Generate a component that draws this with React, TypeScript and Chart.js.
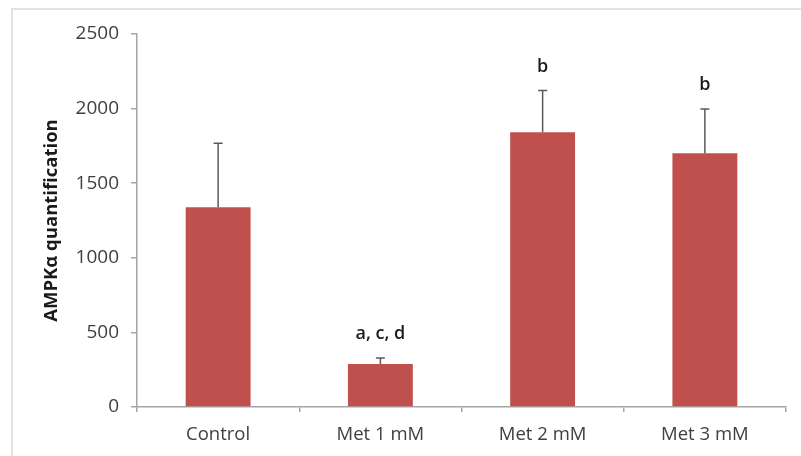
import React, { useEffect, useRef } from "react";
import { Chart, registerables } from "chart.js";

Chart.register(...registerables);

const categories = ["Control", "Met 1 mM", "Met 2 mM", "Met 3 mM"];
const means = [1338, 288, 1841, 1700];
const errors = [429, 40, 281, 297];
const letters = ["", "a, c, d", "b", "b"];
const yTicks = [0, 500, 1000, 1500, 2000, 2500];

const FONT = "'Open Sans', 'Noto Sans', sans-serif";

const overlayPlugin = {
  id: "overlay",
  beforeDraw(chart: any) {
    const ctx = chart.ctx;
    ctx.save();
    ctx.fillStyle = "#ffffff";
    ctx.fillRect(0, 0, chart.width, chart.height);
    ctx.strokeStyle = "#d9d9d9";
    ctx.lineWidth = 1.5;
    ctx.beginPath();
    ctx.moveTo(12, chart.height);
    ctx.lineTo(12, 9);
    ctx.lineTo(chart.width, 9);
    ctx.stroke();
    ctx.restore();
  },
  afterDatasetsDraw(chart: any) {
    const ctx = chart.ctx;
    const meta = chart.getDatasetMeta(0);
    const y = chart.scales.y;
    ctx.save();
    meta.data.forEach((bar: any, i: number) => {
      const x = bar.x;
      const yTop = y.getPixelForValue(means[i] + errors[i]);
      const yBase = y.getPixelForValue(means[i]);
      ctx.strokeStyle = "#595959";
      ctx.lineWidth = 1.5;
      ctx.beginPath();
      ctx.moveTo(x, yBase);
      ctx.lineTo(x, yTop);
      ctx.moveTo(x - 4.5, yTop);
      ctx.lineTo(x + 4.5, yTop);
      ctx.stroke();
      if (letters[i]) {
        ctx.fillStyle = "#1a1a1a";
        ctx.font = `600 18px ${FONT}`;
        ctx.textAlign = "center";
        ctx.textBaseline = "middle";
        ctx.fillText(letters[i], x, yTop - 24);
      }
    });
    ctx.restore();
  },
};

export default function App() {
  const ref = useRef<HTMLCanvasElement>(null);
  useEffect(() => {
    document.body.style.margin = "0";
    const chart = new Chart(ref.current!, {
      type: "bar",
      data: {
        labels: categories,
        datasets: [
          {
            data: means,
            backgroundColor: "#c0504d",
            borderWidth: 0,
            categoryPercentage: 1,
            barPercentage: 0.4,
          },
        ],
      },
      options: {
        animation: false,
        responsive: false,
        maintainAspectRatio: false,
        layout: { padding: { left: 41, top: 34, right: 15, bottom: 0 } },
        plugins: { legend: { display: false }, tooltip: { enabled: false } },
        scales: {
          x: {
            offset: true,
            grid: {
              offset: true,
              drawOnChartArea: false,
              drawTicks: true,
              tickLength: 5,
              color: "#a6a6a6",
              lineWidth: 1.5,
            },
            border: { color: "#a6a6a6", width: 1.5 },
            ticks: {
              color: "#404040",
              font: { family: FONT, size: 18.5 },
              padding: 12,
            },
            afterFit: (s: any) => {
              s.height = 49;
            },
          },
          y: {
            min: 0,
            max: 2500,
            afterBuildTicks: (s: any) => {
              s.ticks = yTicks.map((v) => ({ value: v }));
            },
            grid: {
              drawOnChartArea: false,
              drawTicks: true,
              tickLength: 6,
              color: "#a6a6a6",
              lineWidth: 1.5,
            },
            border: { color: "#a6a6a6", width: 1.5 },
            ticks: {
              color: "#404040",
              font: { family: FONT, size: 19 },
              padding: 12,
              callback: (v: any) => String(v),
            },
            title: {
              display: true,
              text: "AMPKα quantification",
              color: "#1a1a1a",
              font: { family: FONT, size: 18.5, weight: "bold" },
              padding: { top: 0, bottom: 8 },
            },
            afterFit: (s: any) => {
              s.width = 96;
            },
          },
        },
      },
      plugins: [overlayPlugin],
    });
    return () => chart.destroy();
  }, []);
  return (
    <div style={{ width: 801, height: 456 }}>
      <canvas ref={ref} width={801} height={456} style={{ display: "block" }} />
    </div>
  );
}
